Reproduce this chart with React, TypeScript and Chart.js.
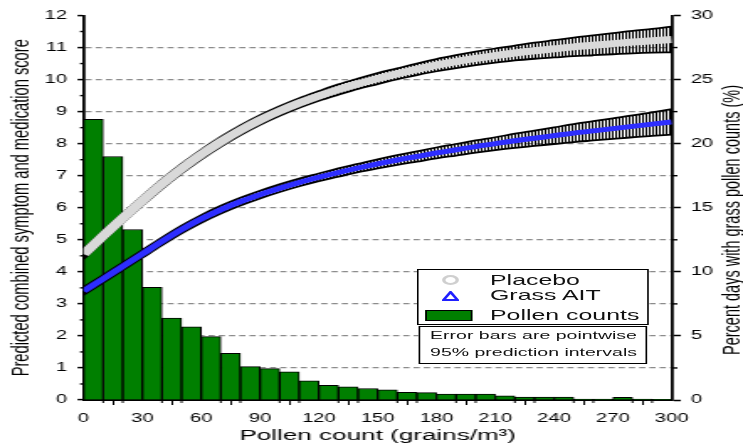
import React, { useEffect, useRef } from "react";
import { Chart, registerables } from "chart.js";

Chart.register(...registerables);

// ---------------- data ----------------
const binStarts = [0, 10, 20, 30, 40, 50, 60, 70, 80, 90, 100, 110, 120, 130, 140, 150, 160, 170, 180, 190, 200, 210, 220, 230, 240, 250, 260, 270, 280, 290];
const pollenPct = [21.9, 19.0, 13.3, 8.8, 6.4, 5.7, 4.95, 3.65, 2.6, 2.45, 2.2, 1.5, 1.15, 1.02, 0.9, 0.8, 0.6, 0.57, 0.47, 0.47, 0.47, 0.33, 0.22, 0.22, 0.22, 0.07, 0.07, 0.2, 0.07, 0.05];

const pollenCounts = [0, 10, 20, 30, 40, 50, 60, 70, 80, 90, 100, 110, 120, 130, 140, 150, 160, 170, 180, 190, 200, 210, 220, 230, 240, 250, 260, 270, 280, 290, 300];
const placebo = [4.55, 5.12, 5.68, 6.22, 6.74, 7.22, 7.66, 8.06, 8.42, 8.74, 9.02, 9.27, 9.49, 9.69, 9.87, 10.03, 10.18, 10.32, 10.45, 10.56, 10.66, 10.75, 10.83, 10.9, 10.96, 11.02, 11.07, 11.12, 11.17, 11.21, 11.25];
const placeboHalfPI = [0.15, 0.15, 0.15, 0.15, 0.15, 0.15, 0.15, 0.15, 0.15, 0.15, 0.15, 0.15, 0.15, 0.16, 0.16, 0.17, 0.17, 0.18, 0.19, 0.2, 0.21, 0.22, 0.23, 0.25, 0.27, 0.29, 0.31, 0.33, 0.35, 0.37, 0.4];
const grassAIT = [3.4, 3.78, 4.17, 4.56, 4.95, 5.32, 5.65, 5.94, 6.19, 6.41, 6.61, 6.79, 6.95, 7.1, 7.24, 7.37, 7.49, 7.6, 7.71, 7.81, 7.91, 8.0, 8.09, 8.17, 8.25, 8.33, 8.4, 8.47, 8.54, 8.61, 8.68];
const grassHalfPI = [0.12, 0.12, 0.12, 0.12, 0.12, 0.12, 0.12, 0.12, 0.12, 0.12, 0.12, 0.12, 0.12, 0.13, 0.13, 0.14, 0.15, 0.16, 0.17, 0.18, 0.19, 0.2, 0.22, 0.24, 0.26, 0.28, 0.3, 0.32, 0.34, 0.37, 0.4];

const leftTitle = "Predicted combined symptom and medication score";
const rightTitle = "Percent days with grass pollen counts (%)";
const xTitle = "Pollen count (grains/m\u00B3)";

// ---------------- layout ----------------
const W = 442;
const H = 445;
const SX = 743 / W;
const FONT = "'Liberation Sans', Arial, Helvetica, sans-serif";

const extras = {
  id: "extras",
  afterDraw(chart: any) {
    const { ctx } = chart;
    const y = chart.scales.y;
    const y2 = chart.scales.y2;
    const x = chart.scales.x;
    const seg = (a: number, b: number, c: number, d: number) => {
      ctx.beginPath();
      ctx.moveTo(a, b);
      ctx.lineTo(c, d);
      ctx.stroke();
    };
    ctx.save();
    ctx.strokeStyle = "#000";
    ctx.lineWidth = 1.4;
    for (let v = 0.5; v < 12; v += 1) {
      const p = y.getPixelForValue(v);
      seg(y.right, p, y.right - 2.1, p);
    }
    for (let v = 2.5; v < 30; v += 5) {
      const p = y2.getPixelForValue(v);
      seg(y2.left, p, y2.left + 3.4, p);
    }
    ctx.lineWidth = 1;
    for (let v = 10; v < 300; v += 10) {
      if (v % 30 === 0) continue;
      const p = x.getPixelForValue(v);
      seg(p, x.top, p, x.top + 3);
    }
    ctx.fillStyle = "#000";
    ctx.font = `14.5px ${FONT}`;
    ctx.textAlign = "center";
    ctx.textBaseline = "middle";
    ctx.translate(chart.width - 5.6, 220);
    ctx.rotate(-Math.PI / 2);
    ctx.fillText(rightTitle, 0, 0);
    ctx.restore();
  },
};

export default function App() {
  const ref = useRef<HTMLCanvasElement | null>(null);

  useEffect(() => {
    const canvas = ref.current!;
    const c2d = canvas.getContext("2d")!;
    const tile = document.createElement("canvas");
    tile.width = 2;
    tile.height = 2;
    const tg = tile.getContext("2d")!;
    tg.fillStyle = "#000";
    tg.fillRect(0, 0, 1, 2);
    const hatch = c2d.createPattern(tile, "repeat");

    const pts = (vals: number[]) => pollenCounts.map((p, i) => ({ x: p, y: vals[i] }));
    const up = (vals: number[], e: number[]) => pollenCounts.map((p, i) => ({ x: p, y: vals[i] + e[i] }));
    const lo = (vals: number[], e: number[]) => pollenCounts.map((p, i) => ({ x: p, y: vals[i] - e[i] }));

    const lineBase = {
      type: "line",
      pointRadius: 0,
      cubicInterpolationMode: "monotone",
      xAxisID: "x",
      yAxisID: "y",
    };

    const chart = new Chart(canvas, {
      type: "line",
      data: {
        datasets: [
          { ...lineBase, label: "Placebo", data: pts(placebo), borderColor: "#d9d9d9", borderWidth: 7, fill: false, order: 0 },
          { ...lineBase, label: "Grass AIT", data: pts(grassAIT), borderColor: "rgb(45,45,255)", borderWidth: 5, fill: false, order: 1 },
          { ...lineBase, label: "Placebo upper", data: up(placebo, placeboHalfPI), borderColor: "#000", borderWidth: 1.8, fill: false, order: 2 },
          { ...lineBase, label: "Placebo lower", data: lo(placebo, placeboHalfPI), borderColor: "#000", borderWidth: 1.8, fill: "-1", backgroundColor: hatch, order: 2 },
          { ...lineBase, label: "Grass upper", data: up(grassAIT, grassHalfPI), borderColor: "#000", borderWidth: 1.8, fill: false, order: 3 },
          { ...lineBase, label: "Grass lower", data: lo(grassAIT, grassHalfPI), borderColor: "#000", borderWidth: 1.8, fill: "-1", backgroundColor: hatch, order: 3 },
          {
            type: "bar",
            label: "Pollen counts",
            data: binStarts.map((b, i) => ({ x: b + 5, y: pollenPct[i] })),
            backgroundColor: "#007f00",
            borderColor: "#000",
            borderWidth: 1,
            barPercentage: 1,
            categoryPercentage: 1,
            xAxisID: "x",
            yAxisID: "y2",
            order: 10,
          },
        ] as any,
      },
      options: {
        responsive: false,
        animation: false,
        events: [],
        layout: { padding: { top: 15.5, left: 0, right: 0, bottom: 0 } },
        plugins: { legend: { display: false }, tooltip: { enabled: false } },
        scales: {
          x: {
            type: "linear",
            position: "bottom",
            min: 0,
            max: 300,
            offset: false,
            afterFit: (s: any) => { s.height = 45; },
            ticks: { stepSize: 30, padding: 6, color: "#000", font: { family: FONT, size: 12 }, maxRotation: 0, autoSkip: false },
            grid: { drawOnChartArea: false, drawTicks: true, tickLength: 5, tickColor: "#000", tickWidth: 1 },
            border: { display: true, color: "#000", width: 2 },
            title: { display: true, text: xTitle, color: "#000", font: { family: FONT, size: 15.5 }, padding: { top: 0, bottom: 0 } },
          },
          y: {
            type: "linear",
            position: "left",
            min: 0,
            max: 12,
            afterFit: (s: any) => { s.width = 49.7; },
            ticks: { stepSize: 1, padding: 6.3, color: "#000", font: { family: FONT, size: 12 } },
            grid: {
              drawTicks: true,
              tickLength: 3.6,
              tickColor: "#000",
              tickWidth: 1.5,
              lineWidth: 1.2,
              color: (c: any) => (c.tick && c.tick.value > 0 && c.tick.value < 12 ? "#8c8c8c" : "rgba(0,0,0,0)"),
            },
            border: { display: true, color: "#000", width: 1.8, dash: [3.7, 2.4] },
            title: { display: true, text: leftTitle, color: "#000", font: { family: FONT, size: 14.7 }, padding: { top: 4.6, bottom: 0 } },
          },
          y2: {
            type: "linear",
            position: "right",
            min: 0,
            max: 30,
            afterFit: (s: any) => { s.width = W - 399.6; },
            ticks: { stepSize: 5, padding: 5.9, color: "#000", font: { family: FONT, size: 12 } },
            grid: { drawOnChartArea: false, drawTicks: true, tickLength: 5.4, tickColor: "#000", tickWidth: 1.5 },
            border: { display: true, color: "#000", width: 1.8 },
            title: { display: false },
          },
        },
      } as any,
      plugins: [extras],
    });
    return () => chart.destroy();
  }, []);

  const txt = (top: number, size: number): React.CSSProperties => ({
    position: "absolute",
    left: 291.5,
    top,
    fontFamily: FONT,
    fontSize: size,
    lineHeight: "17px",
    color: "#111",
    whiteSpace: "nowrap",
  });

  return (
    <div style={{ position: "fixed", left: 0, top: 0, width: 743, height: 445, overflow: "hidden", background: "#fff" }}>
      <div style={{ position: "absolute", left: 0, top: 0, width: W, height: H, transform: `scaleX(${SX})`, transformOrigin: "0 0" }}>
        <canvas ref={ref} width={W} height={H} style={{ width: W, height: H, display: "block" }} />
        <div style={{ position: "absolute", left: 248.2, top: 269.3, width: 137.5, height: 55.7, border: "1px solid #000", boxSizing: "border-box", background: "#fff" }} />
        <div style={{ position: "absolute", left: 262.7, top: 275, width: 10, height: 10, borderRadius: "50%", border: "2px solid #cfcfcf", boxSizing: "border-box" }} />
        <svg style={{ position: "absolute", left: 262.7, top: 290.5 }} width={10} height={10} viewBox="0 0 10 10">
          <polygon points="5,1 9.2,9 0.8,9" fill="#fff" stroke="#2020ff" strokeWidth={1.8} />
        </svg>
        <div style={{ position: "absolute", left: 253.4, top: 310, width: 28, height: 11, background: "#007f00", border: "1px solid #000", boxSizing: "border-box" }} />
        <div style={txt(271.5, 14.8)}>Placebo</div>
        <div style={txt(287, 14.8)}>Grass AIT</div>
        <div style={txt(307, 14.8)}>Pollen counts</div>
        <div style={{ position: "absolute", left: 249.3, top: 325.7, width: 136.2, height: 38.6, border: "1px solid #000", boxSizing: "border-box", background: "#fff", textAlign: "center", fontFamily: FONT, fontSize: 11.6, lineHeight: "16.5px", color: "#111", paddingTop: 0.8, whiteSpace: "nowrap" }}>
          <div>Error bars are pointwise</div>
          <div>95% prediction intervals</div>
        </div>
      </div>
    </div>
  );
}
